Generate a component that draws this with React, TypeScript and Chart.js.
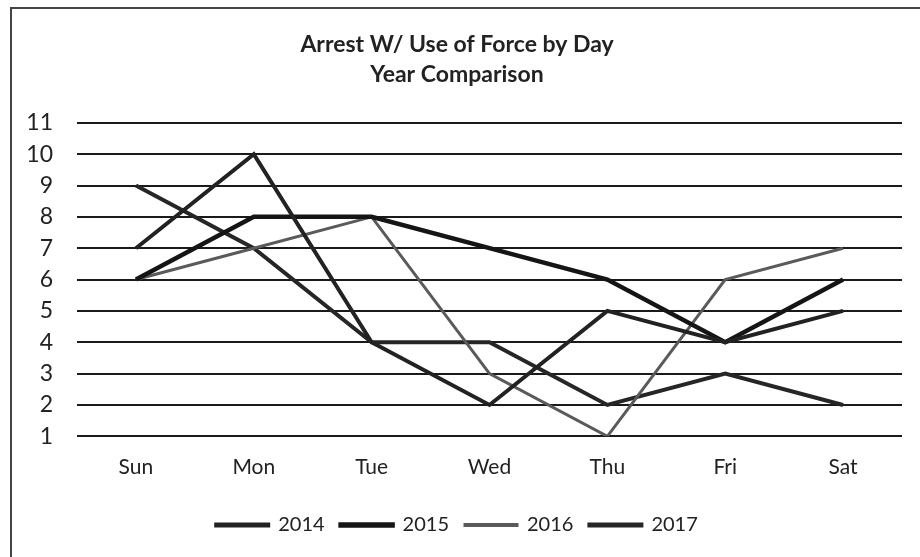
import React, { useEffect, useRef } from "react";
import { Chart, registerables } from "chart.js";

Chart.register(...registerables);

const days = ["Sun", "Mon", "Tue", "Wed", "Thu", "Fri", "Sat"];
const yearLabels = ["2014", "2015", "2016", "2017"];
const s2014 = [7, 10, 4, 2, 5, 4, 5];
const s2015 = [6, 8, 8, 7, 6, 4, 6];
const s2016 = [6, 7, 8, 3, 1, 6, 7];
const s2017 = [9, 7, 4, 4, 2, 3, 2];
const yTicks = [1, 2, 3, 4, 5, 6, 7, 8, 9, 10, 11];

const FONT = "Lato, 'Open Sans', sans-serif";

export default function App() {
  const ref = useRef<HTMLCanvasElement | null>(null);
  useEffect(() => {
    if (!ref.current) return;
    const series = [s2014, s2015, s2016, s2017];
    const colors = ["#222222", "#151515", "#5a5a5a", "#262626"];
    const widths = [4, 4.5, 3, 4];
    const chart = new Chart(ref.current, {
      type: "line",
      data: {
        labels: days,
        datasets: series.map((d, i) => ({
          label: yearLabels[i],
          data: d,
          borderColor: colors[i],
          backgroundColor: colors[i],
          borderWidth: widths[i],
          pointRadius: 0,
          tension: 0,
          fill: false,
        })),
      },
      options: {
        animation: false,
        responsive: false,
        maintainAspectRatio: false,
        layout: { padding: { left: 0, right: 18, top: 0, bottom: 12 } },
        plugins: {
          title: {
            display: true,
            text: ["Arrest W/ Use of Force by Day", "Year Comparison"],
            color: "#222",
            font: { family: FONT, size: 23, weight: "bold", lineHeight: 1.3 },
            padding: { top: 21, bottom: 33 },
          },
          legend: {
            position: "bottom",
            labels: {
              color: "#222",
              font: { family: FONT, size: 20 },
              boxWidth: 52,
              boxHeight: 1,
              padding: 16,
            },
          },
          tooltip: { enabled: false },
        },
        scales: {
          x: {
            offset: true,
            grid: { display: false, drawTicks: false },
            border: { display: false },
            ticks: { color: "#222", font: { family: FONT, size: 21, lineHeight: 0.7 }, padding: 24 },
          },
          y: {
            min: 1,
            max: 11,
            afterBuildTicks: (scale: any) => {
              scale.ticks = yTicks.map((v) => ({ value: v }));
            },
            afterFit: (scale: any) => {
              scale.width = 65;
            },
            grid: { color: "#1a1a1a", lineWidth: 2, drawTicks: false },
            border: { display: false },
            ticks: { color: "#222", font: { family: FONT, size: 23 }, padding: 24 },
          },
        },
      },
    });
    return () => chart.destroy();
  }, []);
  return (
    <div
      style={{
        position: "fixed",
        left: 10,
        top: 7,
        width: 930,
        height: 570,
        borderLeft: "2px solid #444",
        borderTop: "2px solid #444",
        background: "#fff",
      }}
    >
      <canvas ref={ref} width={908} height={548} style={{ display: "block" }} />
    </div>
  );
}
